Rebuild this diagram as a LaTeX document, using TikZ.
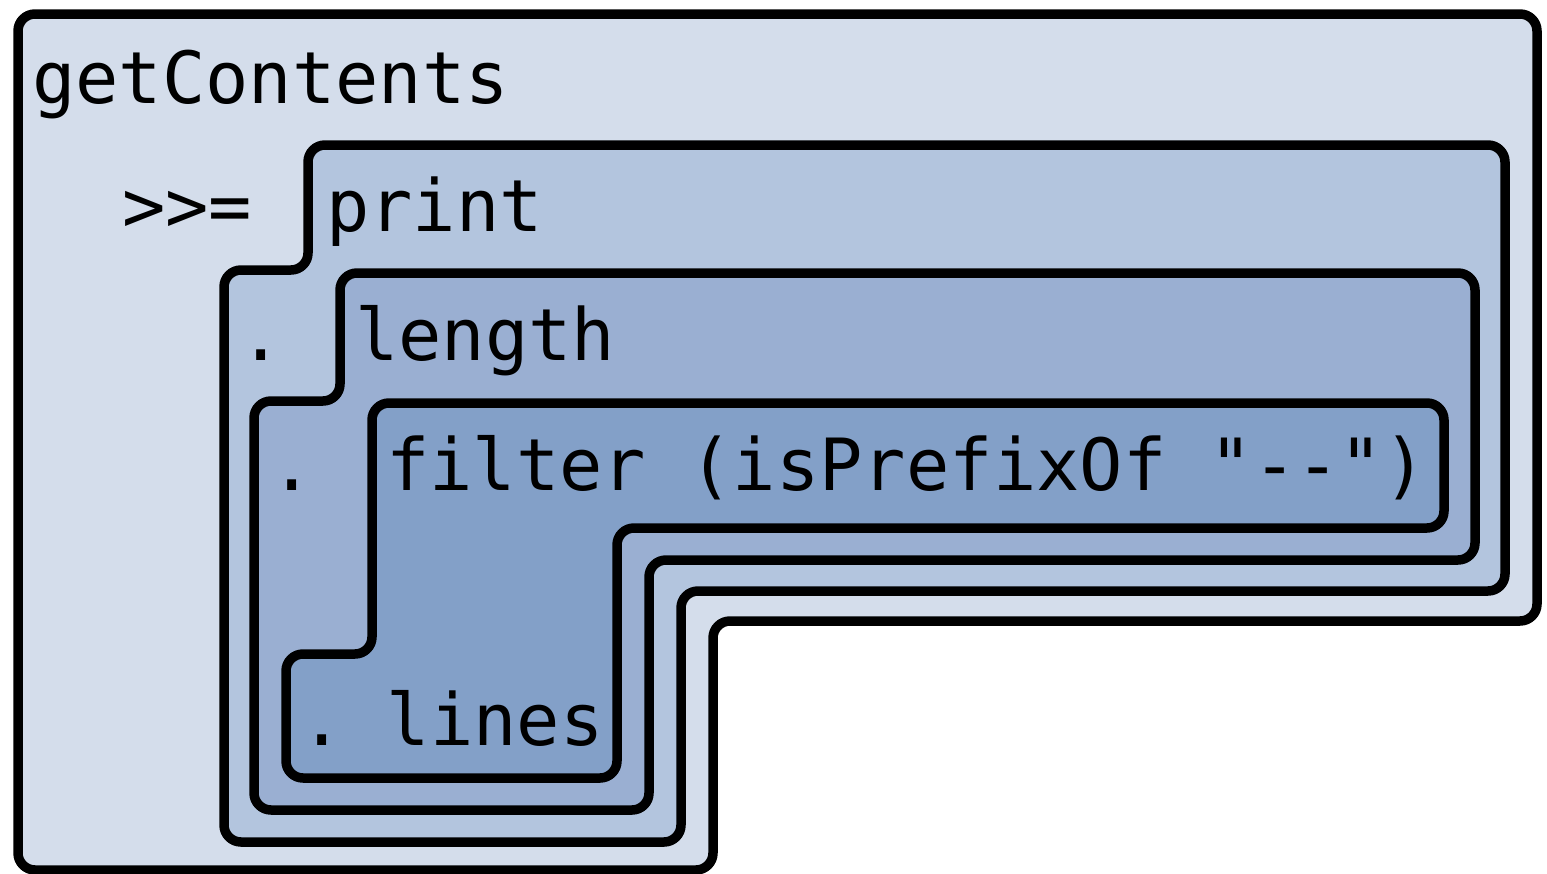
\documentclass[tikz,border=0pt]{standalone}
\usepackage{fontspec}
\setmonofont{DejaVu Sans Mono}
\definecolor{lvlA}{RGB}{212,221,235}
\definecolor{lvlB}{RGB}{179,197,222}
\definecolor{lvlC}{RGB}{154,175,210}
\definecolor{lvlD}{RGB}{131,160,200}
\begin{document}
\begin{tikzpicture}[x=1pt,y=-1pt,
  frame/.style={draw=black, line width=9.5pt, rounded corners=17pt, line join=round},
  code/.style={font=\ttfamily\fontsize{72}{72}\selectfont, inner sep=0pt, anchor=base west, text=black}]
  \useasboundingbox (0,0) rectangle (1547,873);
  \clip (0,0) rectangle (1547,873);

  % outermost block: getContents >>= ...
  \draw[frame, fill=lvlA] (18,14) -- (1537,14) -- (1537,621) -- (713,621)
    -- (713,870) -- (18,870) -- cycle;
  % print . ...
  \draw[frame, fill=lvlB] (308,145) -- (1505,145) -- (1505,591) -- (681,591)
    -- (681,842) -- (224,842) -- (224,270) -- (308,270) -- cycle;
  % length . ...
  \draw[frame, fill=lvlC] (340,273) -- (1475,273) -- (1475,560) -- (649,560)
    -- (649,810) -- (254,810) -- (254,401) -- (340,401) -- cycle;
  % filter (isPrefixOf "--") . lines
  \draw[frame, fill=lvlD] (372,403) -- (1444,403) -- (1444,528) -- (617,528)
    -- (617,778) -- (286,778) -- (286,654) -- (372,654) -- cycle;

  \node[code] (getc) at (32,103) {getContents};
  \node[code] (bind) at (122,231) {>>=};
  \node[code] (prnt) at (326,231) {print};
  \node[code] (dotA) at (239,360) {.};
  \node[code] (lnth) at (355,360) {length};
  \node[code] (dotB) at (270,490) {.};
  \node[code] (filt) at (386,490) {filter (isPrefixOf "--")};
  \node[code] (lins) at (300,745) {.\ lines};
\end{tikzpicture}
\end{document}
